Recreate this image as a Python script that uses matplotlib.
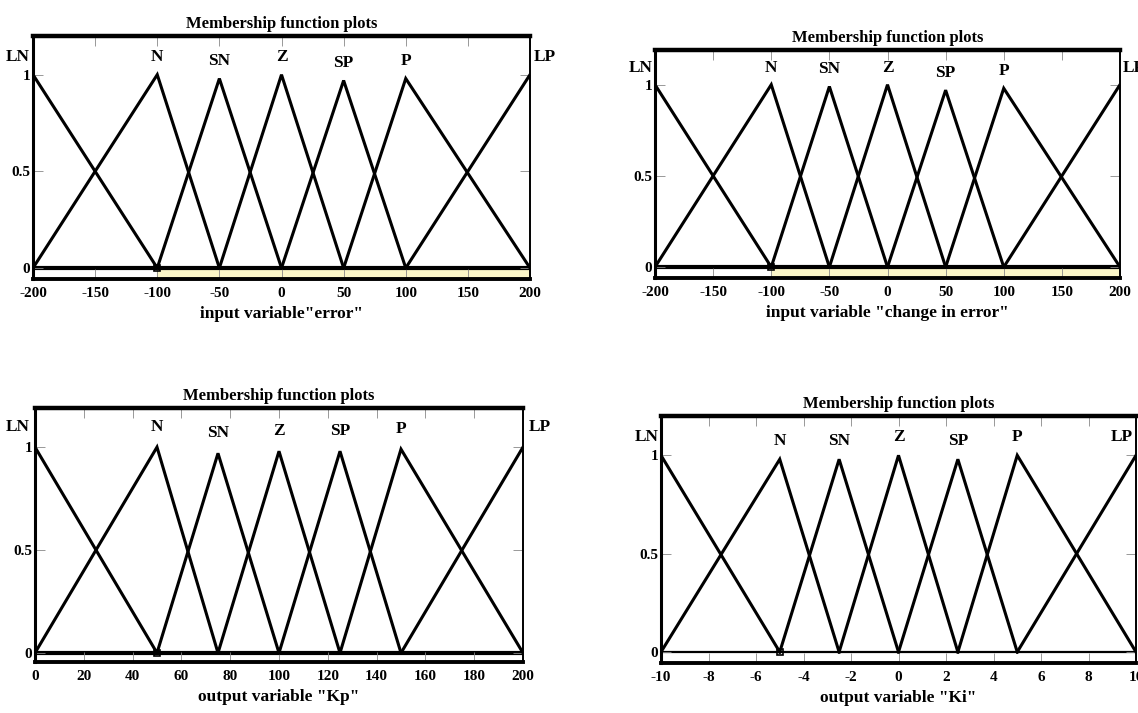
import matplotlib
matplotlib.use("Agg")
import matplotlib.pyplot as plt

plt.rcParams['font.family'] = ['Liberation Serif', 'DejaVu Serif']
plt.rcParams['font.weight'] = 'bold'

names = ["LN", "N", "SN", "Z", "SP", "P", "LP"]

# triangle corners (left foot, peak, right foot) for each membership function
err_mf = [(-200, -200, -100), (-200, -100, -50), (-100, -50, 0), (-50, 0, 50),
          (0, 50, 100), (50, 100, 200), (100, 200, 200)]
derr_mf = [(-200, -200, -100), (-200, -100, -50), (-100, -50, 0), (-50, 0, 50),
           (0, 50, 100), (50, 100, 200), (100, 200, 200)]
kp_mf = [(0, 0, 50), (0, 50, 75), (50, 75, 100), (75, 100, 125),
         (100, 125, 150), (125, 150, 200), (150, 200, 200)]
ki_mf = [(-10, -10, -5), (-10, -5, -2.5), (-5, -2.5, 0), (-2.5, 0, 2.5),
         (0, 2.5, 5), (2.5, 5, 10), (5, 10, 10)]

# peak heights
err_peak = [1, 1, 0.98, 1, 0.97, 0.98, 1]
derr_peak = [1, 1, 0.99, 1, 0.97, 0.98, 1]
kp_peak = [1, 1, 0.97, 0.98, 0.98, 0.99, 1]
ki_peak = [1, 0.98, 0.98, 1, 0.98, 1, 1]

err_ticks = [-200, -150, -100, -50, 0, 50, 100, 150, 200]
kp_ticks = [0, 20, 40, 60, 80, 100, 120, 140, 160, 180, 200]
ki_ticks = [-10, -8, -6, -4, -2, 0, 2, 4, 6, 8, 10]
y_ticks = [0, 0.5, 1]

W, H = 1138, 713
fig = plt.figure(figsize=(W / 100, H / 100), dpi=100)


def px_axes(l, r, t, b):
    return fig.add_axes([l / W, 1 - b / H, (r - l) / W, (b - t) / H])


def panel(box, mf, peaks, ticks, ylim, xlabel, band, zero_lw, lab_dy, ln_dx, lp_dx):
    ax = px_axes(*box)
    lo, hi = ticks[0], ticks[-1]
    ax.set_xlim(lo, hi)
    ax.set_ylim(*ylim)
    if band:
        ax.fill_between([mf[1][1], hi], ylim[0], 0, color="#fbf6c8", zorder=0)
    ax.plot([lo, hi], [0, 0], color="black", lw=zero_lw, zorder=1)
    for (a, b, c), h, nm in zip(mf, peaks, names):
        xs, ys = [], []
        if a < b:
            xs.append(a); ys.append(0)
        xs.append(b); ys.append(h)
        if c > b:
            xs.append(c); ys.append(0)
        ax.plot(xs, ys, color="black", lw=2.2, solid_joinstyle="miter", zorder=3)
        tx = b
        if nm == "LN":
            tx = b - ln_dx * (hi - lo)
        elif nm == "LP":
            tx = b + lp_dx * (hi - lo)
        ax.text(tx, h + lab_dy, nm, ha="center", va="bottom", fontsize=12.5,
                fontweight="bold", clip_on=False)
    ax.plot([mf[1][1]], [0], marker="s", ms=4.5, mfc="none", mec="black", mew=1.2,
            zorder=4)
    ax.set_xticks(ticks)
    ax.set_xticklabels([str(t) for t in ticks])
    ax.set_yticks(y_ticks)
    ax.set_yticklabels(["0", "0.5", "1"])
    ax.tick_params(direction="in", top=True, right=True, length=7, width=0.6,
                   color="#888888", labelsize=11, pad=6)
    ax.tick_params(axis="y", pad=2)
    ax.spines["top"].set_linewidth(3.2)
    ax.spines["left"].set_linewidth(2.2)
    ax.spines["bottom"].set_linewidth(2.8)
    ax.spines["right"].set_linewidth(1.4)
    ax.set_title("Membership function plots", fontsize=12, fontweight="bold", pad=6)
    ax.set_xlabel(xlabel, fontsize=12.5, fontweight="bold", labelpad=4)
    return ax


panel((33, 530, 36, 279), err_mf, err_peak, err_ticks, (-0.057, 1.2),
      'input variable"error"', True, 3.0, 0.05, 0.03, 0.03)
panel((655, 1120, 50, 278), derr_mf, derr_peak, err_ticks, (-0.06, 1.19),
      'input variable "change in error"', True, 3.0, 0.05, 0.03, 0.03)
panel((35, 523, 408, 662), kp_mf, kp_peak, kp_ticks, (-0.044, 1.19),
      'output variable "Kp"', False, 3.0, 0.06, 0.035, 0.035)
panel((661, 1136, 416, 663), ki_mf, ki_peak, ki_ticks, (-0.056, 1.2),
      'output variable "Ki"', False, 1.6, 0.05, 0.03, -0.03)

fig.savefig("out.png", dpi=100)
